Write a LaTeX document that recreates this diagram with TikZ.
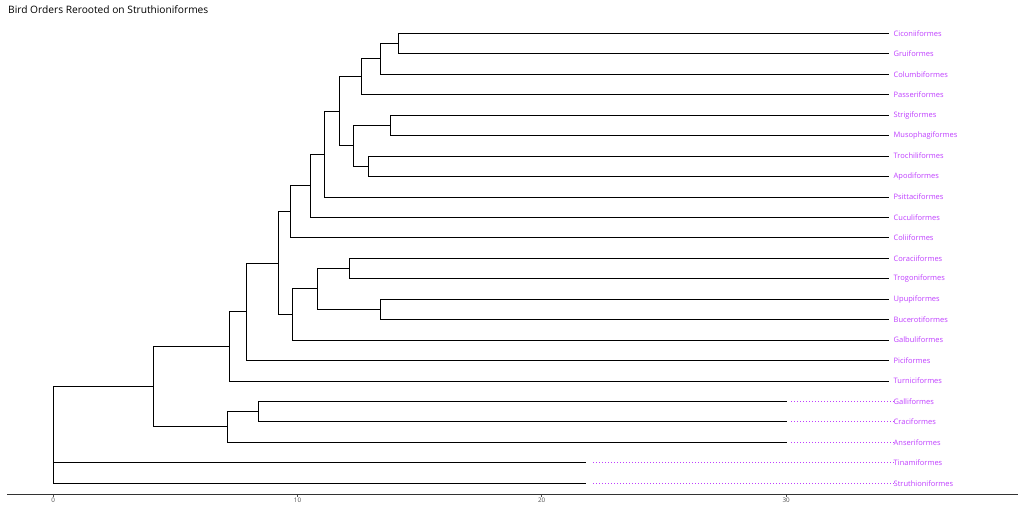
\documentclass[tikz,border=0pt]{standalone}
\usepackage{fontspec}
\setmainfont{Open Sans}
\definecolor{lab}{RGB}{191,62,255}
\definecolor{axisgray}{RGB}{51,51,51}
\definecolor{tickgray}{RGB}{77,77,77}
\begin{document}
\begin{tikzpicture}[x=1pt,y=-1pt,
  edge/.style={draw=black,line width=0.8pt},
  ext/.style={draw=lab,line width=0.9pt,dash pattern=on 0.9pt off 2.1pt},
  leaflab/.style={anchor=west,inner sep=0pt,text=lab,font=\fontsize{7.5}{8}\selectfont},
  ticklab/.style={anchor=north,inner sep=0pt,text=tickgray,font=\fontsize{6.3}{7}\selectfont},
  title/.style={anchor=base west,inner sep=0pt,font=\fontsize{10.2}{12}\selectfont}]
\useasboundingbox (0,0) rectangle (1024,512);
\node[title] (title) at (8,13.3) {Bird Orders Rerooted on Struthioniformes};
% leaf label positions
\def\lx{893.5}
\foreach \i/\n/\t in {0/L1/Ciconiiformes,1/L2/Gruiformes,2/L3/Columbiformes,3/L4/Passeriformes,
  4/L5/Strigiformes,5/L6/Musophagiformes,6/L7/Trochiliformes,7/L8/Apodiformes,
  8/L9/Psittaciformes,9/L10/Cuculiformes,10/L11/Coliiformes,11/L12/Coraciiformes,
  12/L13/Trogoniformes,13/L14/Upupiformes,14/L15/Bucerotiformes,15/L16/Galbuliformes,
  16/L17/Piciformes,17/L18/Turniciformes,18/L19/Galliformes,19/L20/Craciformes,
  20/L21/Anseriformes,21/L22/Tinamiformes,22/L23/Struthioniformes}{
  \node[leaflab] (\n) at (\lx,{33.3+20.45*\i}) {\t};
}
% tips (branch ends)
\foreach \n in {L1,L2,L3,L4,L5,L6,L7,L8,L9,L10,L11,L12,L13,L14,L15,L16,L17,L18}{
  \coordinate (t\n) at (889,0 |- \n.west);
}
\foreach \n in {L19,L20,L21}{
  \coordinate (t\n) at (786.7,0 |- \n.west);
  \coordinate (d\n) at (791,0 |- \n.west);
}
\foreach \n in {L22,L23}{
  \coordinate (t\n) at (586,0 |- \n.west);
  \coordinate (d\n) at (593,0 |- \n.west);
}
% internal nodes
\coordinate (n1) at (398.3,43.5);
\coordinate (n2) at (380.7,58.7);
\coordinate (n3) at (361.0,76.7);
\coordinate (n4) at (390.7,125.1);
\coordinate (n5) at (368.7,166.0);
\coordinate (n6) at (353.7,145.5);
\coordinate (n7) at (339.3,111.1);
\coordinate (n8) at (324.7,154.0);
\coordinate (n9) at (310.0,185.7);
\coordinate (n10) at (290.7,211.8);
\coordinate (n11) at (349.0,268.2);
\coordinate (n12) at (380.7,309.1);
\coordinate (n13) at (317.3,288.6);
\coordinate (n14) at (292.7,314.3);
\coordinate (n15) at (278.3,263.1);
\coordinate (n16) at (246.3,311.7);
\coordinate (n17) at (229.3,346.3);
\coordinate (n18) at (258.7,411.4);
\coordinate (n19) at (227.0,426.8);
\coordinate (n20) at (153.3,386.6);
\coordinate (root) at (53.3,434.9);
% edges
\foreach \p/\c in {n1/tL1,n1/tL2,n2/n1,n2/tL3,n3/n2,n3/tL4,n4/tL5,n4/tL6,n5/tL7,n5/tL8,
  n6/n4,n6/n5,n7/n3,n7/n6,n8/n7,n8/tL9,n9/n8,n9/tL10,n10/n9,n10/tL11,
  n11/tL12,n11/tL13,n12/tL14,n12/tL15,n13/n11,n13/n12,n14/n13,n14/tL16,
  n15/n10,n15/n14,n16/n15,n16/tL17,n17/n16,n17/tL18,n18/tL19,n18/tL20,
  n19/n18,n19/tL21,n20/n17,n20/n19,root/n20,root/tL22,root/tL23}{
  \draw[edge] (\p) |- (\c);
}
% dotted extensions
\foreach \n in {L19,L20,L21,L22,L23}{
  \draw[ext] (d\n) -- (\n.west);
}
% axis
\coordinate (axl) at (7,494.5);
\coordinate (axr) at (1018,494.5);
\draw[axisgray,line width=0.9pt] (axl) -- (axr);
\foreach \v/\x in {0/53.3,10/297.5,20/541.7,30/786.2}{
  \coordinate (tk\v) at (\x,494.5);
  \draw[tickgray,line width=0.6pt] (tk\v) -- ++(0,2.5) node[ticklab,below=1pt] (tl\v) {\v};
}
\end{tikzpicture}
\end{document}
